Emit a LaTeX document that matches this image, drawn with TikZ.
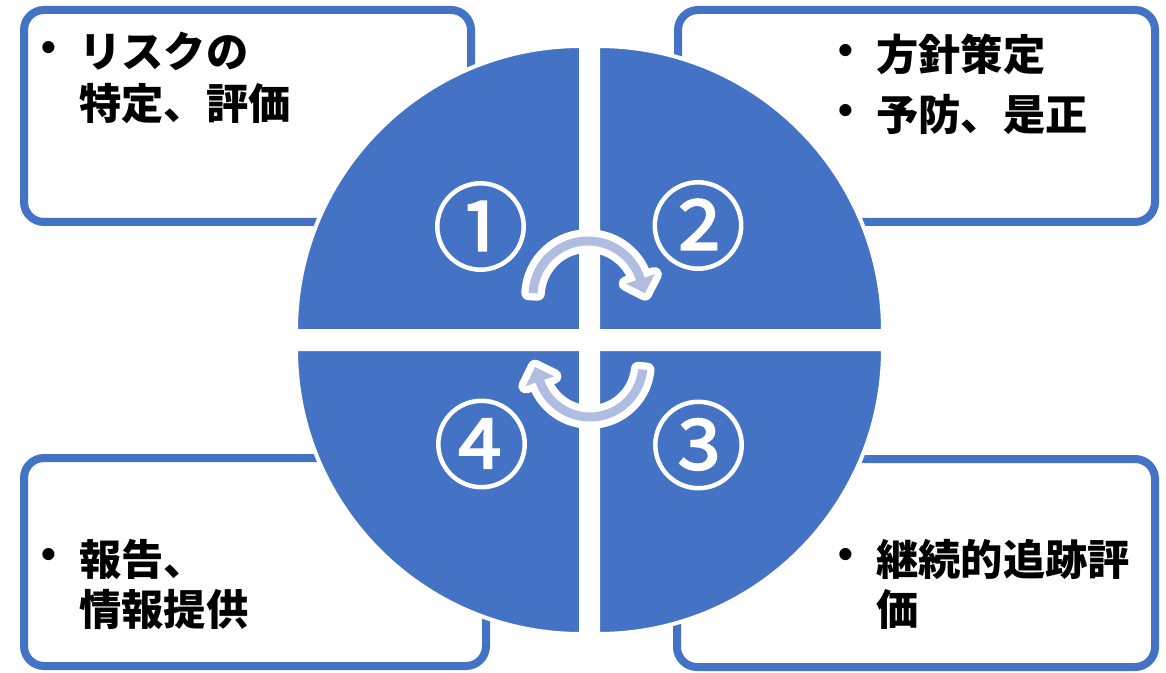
\documentclass[tikz,border=0pt]{standalone}
\usepackage{fontspec}
\usetikzlibrary{calc}
\newfontfamily\jp{Noto Sans CJK JP}
\newfontfamily\numfont{Noto Sans CJK JP}[FakeBold=1.5]
\newfontfamily\bulletfont{Liberation Sans}
\definecolor{blueA}{HTML}{4472C4}
\definecolor{arrowA}{HTML}{B1BDE0}
\newcommand{\bul}{\makebox[28.5pt][l]{\raisebox{0.16em}{\bulletfont\bfseries •}}}
\begin{document}
\begin{tikzpicture}[x=0.75pt,y=0.75pt,
  box/.style={draw=blueA, line width=6pt, fill=white, rounded corners=15pt},
  pie/.style={fill=blueA, draw=white, line width=3pt},
  num/.style={text=white, inner sep=0pt, font=\numfont\fontsize{72}{72}\selectfont},
  item/.style={anchor=base west, inner sep=0pt, font=\jp\bfseries\fontsize{31.7}{39}\selectfont},
  arrowout/.style={fill=white, draw=white, line width=11pt, line join=round},
  arrowin/.style={fill=arrowA}]
\useasboundingbox (0,0) rectangle (1166,672);
% boxes
\draw[box] (24,662) rectangle (471,450);
\draw[box] (678,662) rectangle (1155,450);
\draw[box] (677,213) rectangle (1155,5);
\draw[box] (24,214) rectangle (486,6);
% pies
\draw[pie] (581,341) -- ++(-285,0) arc[start angle=180,end angle=90,radius=285] -- cycle;
\draw[pie] (598,341) -- ++(0,285) arc[start angle=90,end angle=0,radius=285] -- cycle;
\draw[pie] (598,323) -- ++(285,0) arc[start angle=0,end angle=-90,radius=285] -- cycle;
\draw[pie] (581,323) -- ++(0,-285) arc[start angle=-90,end angle=-180,radius=285] -- cycle;
% numbers
\node[num] (n1) at (480.5,445.5) {①};
\node[num] (n2) at (698,446.5) {②};
\node[num] (n3) at (698.5,227) {③};
\node[num] (n4) at (481.5,228) {④};
% arrows
\coordinate (c1) at (588,376);
\coordinate (c2) at (590,308);
\foreach \st in {arrowout,arrowin}{
\path[\st] ($(c1)+(177:59.5)$) arc[start angle=177,end angle=18,radius=59.5]
  -- ($(c1)+(18:70)$) -- ($(c1)+(18:55)+(-72:15)$) -- ($(c1)+(18:40)$)
  -- ($(c1)+(18:50.5)$) arc[start angle=18,end angle=177,radius=50.5] -- cycle;
\path[\st] ($(c2)+(-6:57.5)$) arc[start angle=-6,end angle=-161,radius=57.5]
  -- ($(c2)+(-161:68)$) -- ($(c2)+(-161:53)+(109:15)$) -- ($(c2)+(-161:38)$)
  -- ($(c2)+(-161:48.5)$) arc[start angle=-161,end angle=-6,radius=48.5] -- cycle;
}
% texts
\node[item] (t1) at (41,604) {\begin{tabular}[t]{@{}l@{}l@{}}\bul&リスクの\\&特定、評価\end{tabular}};
\node[item] (t2) at (838,601) {\begin{tabular}[t]{@{}l@{}l@{}}\bul&方針策定\\[6pt]\bul&予防、是正\end{tabular}};
\node[item] (t3) at (838,97) {\begin{tabular}[t]{@{}l@{}l@{}}\bul&継続的追跡評\\[-1.5pt]&価\end{tabular}};
\node[item] (t4) at (41,97) {\begin{tabular}[t]{@{}l@{}l@{}}\bul&報告、\\[-1.5pt]&情報提供\end{tabular}};
\end{tikzpicture}
\end{document}
